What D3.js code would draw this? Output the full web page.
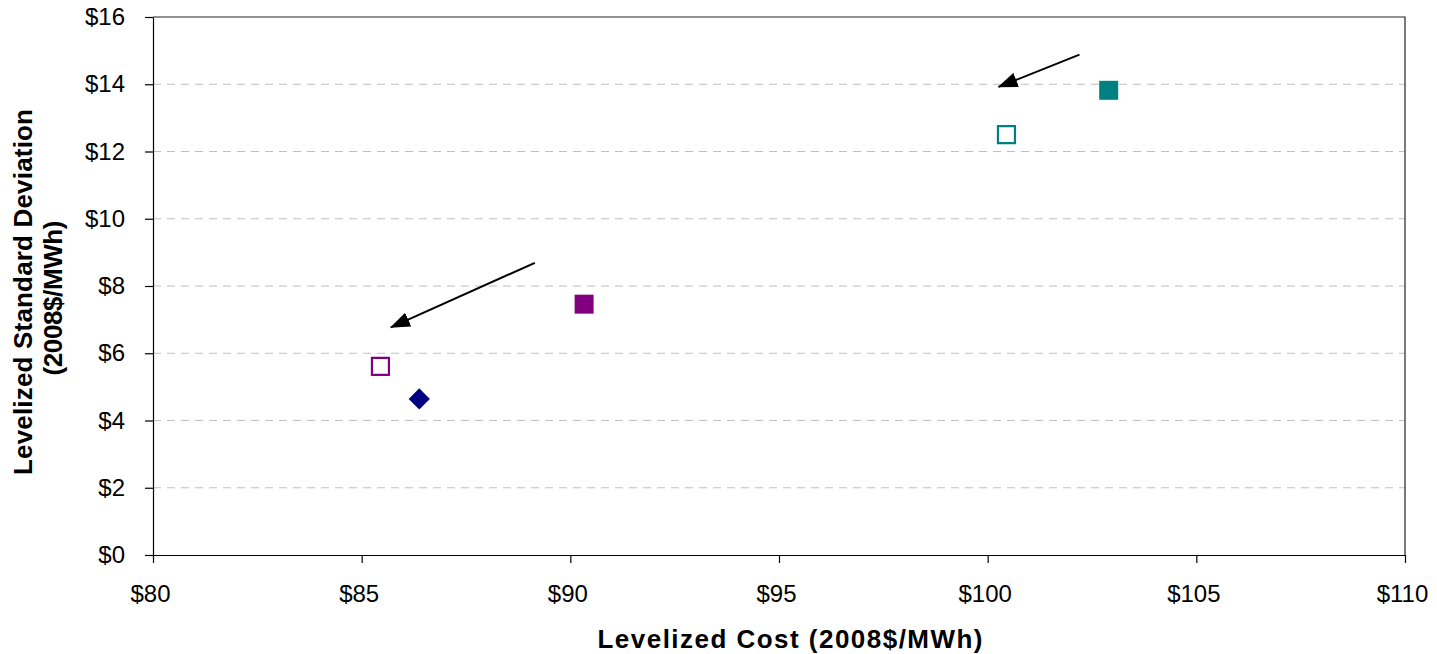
<!DOCTYPE html>
<html>
<head>
<meta charset="utf-8">
<script src="https://cdn.jsdelivr.net/npm/d3@7"></script>
<style>
  html, body { margin: 0; padding: 0; background: #fff; }
  svg { display: block; font-family: "Liberation Sans", Arial, sans-serif; }
</style>
</head>
<body>
<svg id="chart" width="1437" height="654"></svg>
<script>
// points
const pointIds = ["diamond", "purpleFilled", "purpleOpen", "tealFilled", "tealOpen"];
const levelizedCost = [86.38, 90.33, 85.45, 102.9, 100.45];
const levelizedSd = [4.64, 7.46, 5.61, 13.82, 12.5];
const pointShapes = ["diamond", "square", "square", "square", "square"];
const pointColors = ["#000080", "#800080", "#800080", "#008080", "#008080"];
const pointFilled = [true, true, false, true, false];

// arrows (from -> to), in data units
const arrowFromX = [89.15, 102.2];
const arrowFromY = [8.69, 14.88];
const arrowToX = [85.7, 100.26];
const arrowToY = [6.77, 13.92];

const xTicks = [80, 85, 90, 95, 100, 105, 110];
const yTicks = [0, 2, 4, 6, 8, 10, 12, 14, 16];

document.addEventListener("DOMContentLoaded", function () {
  const svg = d3.select("#chart");

  const left = 153, right = 1405, top = 17, bottom = 555;

  const x = d3.scaleLinear().domain([80, 110]).range([left, right]);
  const y = d3.scaleLinear().domain([0, 16]).range([bottom, top]);

  // gridlines
  svg.append("g")
    .selectAll("line")
    .data(yTicks.filter((d) => d > 0 && d < 16))
    .join("line")
    .attr("x1", left)
    .attr("x2", right)
    .attr("y1", (d) => y(d))
    .attr("y2", (d) => y(d))
    .attr("stroke", "#c0c0c0")
    .attr("stroke-width", 1)
    .attr("stroke-dasharray", "8,6");

  // plot frame (top & right)
  svg.append("path")
    .attr("d", `M${left},${y(16)}H${x(110)}V${bottom}`)
    .attr("fill", "none")
    .attr("stroke", "#222")
    .attr("stroke-width", 1.2);

  // Y axis
  const yAxis = svg.append("g")
    .attr("transform", `translate(${left},0)`)
    .call(
      d3.axisLeft(y)
        .tickValues(yTicks)
        .tickSize(8)
        .tickSizeOuter(0)
        .tickPadding(20)
        .tickFormat((d) => "$" + d)
    );
  yAxis.selectAll("text").style("font-size", "24px").attr("fill", "#000");
  yAxis.selectAll("line, path").attr("stroke", "#000").attr("stroke-width", 1.2);

  // X axis
  const xAxis = svg.append("g")
    .attr("transform", `translate(0,${bottom})`)
    .call(
      d3.axisBottom(x)
        .tickValues(xTicks)
        .tickSize(8)
        .tickSizeOuter(0)
        .tickPadding(22)
        .tickFormat((d) => "$" + d)
    );
  xAxis.selectAll("text").style("font-size", "24px").attr("fill", "#000").attr("dx", -3);
  xAxis.selectAll("line, path").attr("stroke", "#000").attr("stroke-width", 1.2);

  // axis titles
  svg.append("text")
    .attr("x", 790)
    .attr("y", 648)
    .attr("text-anchor", "middle")
    .attr("textLength", 385)
    .attr("lengthAdjust", "spacing")
    .style("font-size", "26px")
    .style("font-weight", "bold")
    .text("Levelized Cost (2008$/MWh)");

  const yTitle = svg.append("g")
    .attr("transform", "translate(0,292) rotate(-90)");
  yTitle.append("text")
    .attr("x", 0)
    .attr("y", 32)
    .attr("text-anchor", "middle")
    .attr("textLength", 366)
    .attr("lengthAdjust", "spacing")
    .style("font-size", "26px")
    .style("font-weight", "bold")
    .text("Levelized Standard Deviation");
  yTitle.append("text")
    .attr("x", -6)
    .attr("y", 62)
    .attr("text-anchor", "middle")
    .attr("textLength", 155)
    .attr("lengthAdjust", "spacing")
    .style("font-size", "26px")
    .style("font-weight", "bold")
    .text("(2008$/MWh)");

  // arrow marker
  svg.append("defs")
    .append("marker")
    .attr("id", "head")
    .attr("markerUnits", "userSpaceOnUse")
    .attr("viewBox", "0 0 20 15")
    .attr("refX", 19)
    .attr("refY", 7.5)
    .attr("markerWidth", 20)
    .attr("markerHeight", 15)
    .attr("orient", "auto")
    .append("path")
    .attr("d", "M0,0 L20,7.5 L0,15 Z")
    .attr("fill", "#000");

  svg.append("g")
    .selectAll("line")
    .data(arrowFromX.map((d, i) => i))
    .join("line")
    .attr("x1", (i) => x(arrowFromX[i]))
    .attr("y1", (i) => y(arrowFromY[i]))
    .attr("x2", (i) => x(arrowToX[i]))
    .attr("y2", (i) => y(arrowToY[i]))
    .attr("stroke", "#000")
    .attr("stroke-width", 2)
    .attr("marker-end", "url(#head)");

  // markers
  const points = pointIds.map((id, i) => ({
    id: id,
    cost: levelizedCost[i],
    sd: levelizedSd[i],
    shape: pointShapes[i],
    color: pointColors[i],
    filled: pointFilled[i],
  }));

  const squareSym = d3.symbol().type(d3.symbolSquare).size(19 * 19);
  const openSym = d3.symbol().type(d3.symbolSquare).size(17 * 17);
  const diamondSym = d3.symbol().type(d3.symbolSquare).size(15 * 15);

  svg.append("g")
    .selectAll("path")
    .data(points)
    .join("path")
    .attr("transform", (d) =>
      `translate(${x(d.cost)},${y(d.sd)})` + (d.shape === "diamond" ? " rotate(45)" : "")
    )
    .attr("d", (d) => {
      if (d.shape === "diamond") return diamondSym();
      return d.filled ? squareSym() : openSym();
    })
    .attr("fill", (d) => (d.filled ? d.color : "#fff"))
    .attr("stroke", (d) => (d.filled ? "none" : d.color))
    .attr("stroke-width", 2.2);
});
</script>
</body>
</html>
